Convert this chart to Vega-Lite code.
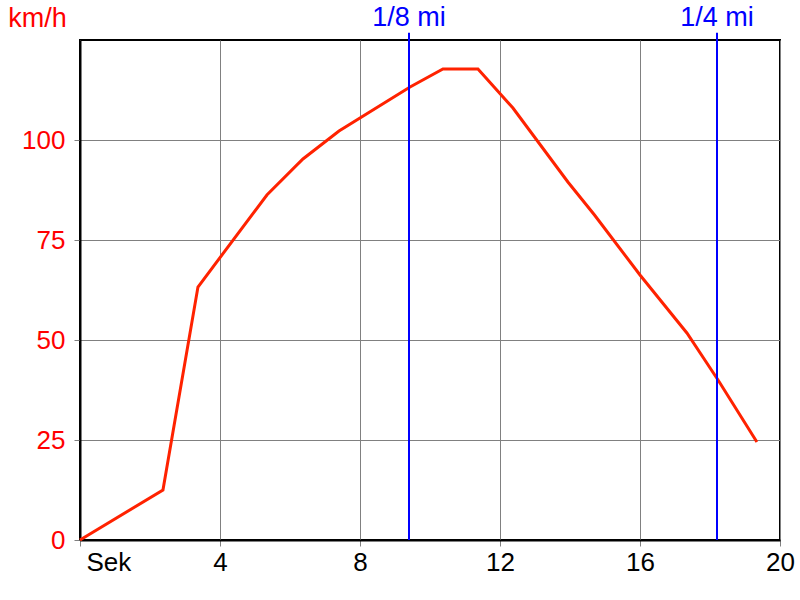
{
  "$schema": "https://vega.github.io/schema/vega-lite/v6.json",
  "width": 700,
  "height": 500,
  "autosize": {"type": "none"},
  "padding": {"left": 80, "top": 40, "right": 20, "bottom": 60},
  "background": "white",
  "config": {
    "view": {"stroke": "black", "strokeWidth": 2},
    "font": "Liberation Sans"
  },
  "datasets": {
    "speed": [
      {"t": 0, "v": 0},
      {"t": 2.37, "v": 12.5},
      {"t": 3.37, "v": 63.25},
      {"t": 5.34, "v": 86.25},
      {"t": 6.37, "v": 95.25},
      {"t": 7.4, "v": 102.25},
      {"t": 9.43, "v": 113.25},
      {"t": 10.37, "v": 117.75},
      {"t": 11.37, "v": 117.75},
      {"t": 12.37, "v": 108},
      {"t": 13.94, "v": 89.5},
      {"t": 14.7, "v": 81.25},
      {"t": 16.0, "v": 66.25},
      {"t": 17.34, "v": 51.75},
      {"t": 18.23, "v": 40},
      {"t": 19.34, "v": 24.5}
    ],
    "markers": [
      {"t": 9.4, "label": "1/8 mi"},
      {"t": 18.2, "label": "1/4 mi"}
    ]
  },
  "layer": [
    {
      "data": {"name": "speed"},
      "mark": {"type": "line", "color": "#ff2200", "strokeWidth": 3, "strokeJoin": "miter"},
      "encoding": {
        "x": {
          "field": "t", "type": "quantitative",
          "scale": {"domain": [0, 20], "nice": false},
          "axis": {
            "title": null,
            "values": [0, 4, 8, 12, 16, 20],
            "grid": true, "gridColor": "#808080", "gridWidth": 1, "gridOpacity": 1,
            "domainColor": "black", "domainWidth": 2,
            "ticks": true, "tickColor": "#808080", "tickSize": 6, "tickWidth": 1,
            "labelFontSize": 26, "labelColor": "black", "labelPadding": 3,
            "labelFlush": false,
            "labelExpr": "datum.value == 0 ? 'Sek' : datum.label",
            "labelAlign": {"condition": {"test": "datum.value == 0", "value": "left"}, "value": "center"},
            "labelOffset": {"condition": {"test": "datum.value == 0", "value": 6}, "value": 0}
          }
        },
        "y": {
          "field": "v", "type": "quantitative",
          "scale": {"domain": [0, 125], "nice": false},
          "axis": {
            "values": [0, 25, 50, 75, 100],
            "grid": true, "gridColor": "#808080", "gridWidth": 1, "gridOpacity": 1,
            "domainColor": "black", "domainWidth": 2,
            "tickColor": "#808080", "tickSize": 6, "tickWidth": 1,
            "labelFontSize": 26, "labelColor": "red", "labelPadding": 9,
            "labelFlush": false,
            "title": "km/h", "titleAngle": 0, "titleColor": "red", "titleFontSize": 27,
            "titleFontWeight": "normal", "titleX": -43, "titleY": -22,
            "titleAlign": "center", "titleBaseline": "middle"
          }
        }
      }
    },
    {
      "data": {"name": "markers"},
      "mark": {"type": "rule", "color": "#0000ff", "strokeWidth": 2},
      "encoding": {
        "x": {"field": "t", "type": "quantitative"},
        "y": {"datum": 0},
        "y2": {"datum": 126.8}
      }
    },
    {
      "data": {"name": "markers"},
      "mark": {"type": "text", "color": "#0000ff", "fontSize": 27, "baseline": "middle", "align": "center"},
      "encoding": {
        "x": {"field": "t", "type": "quantitative"},
        "y": {"datum": 130.5},
        "text": {"field": "label"}
      }
    }
  ]
}
